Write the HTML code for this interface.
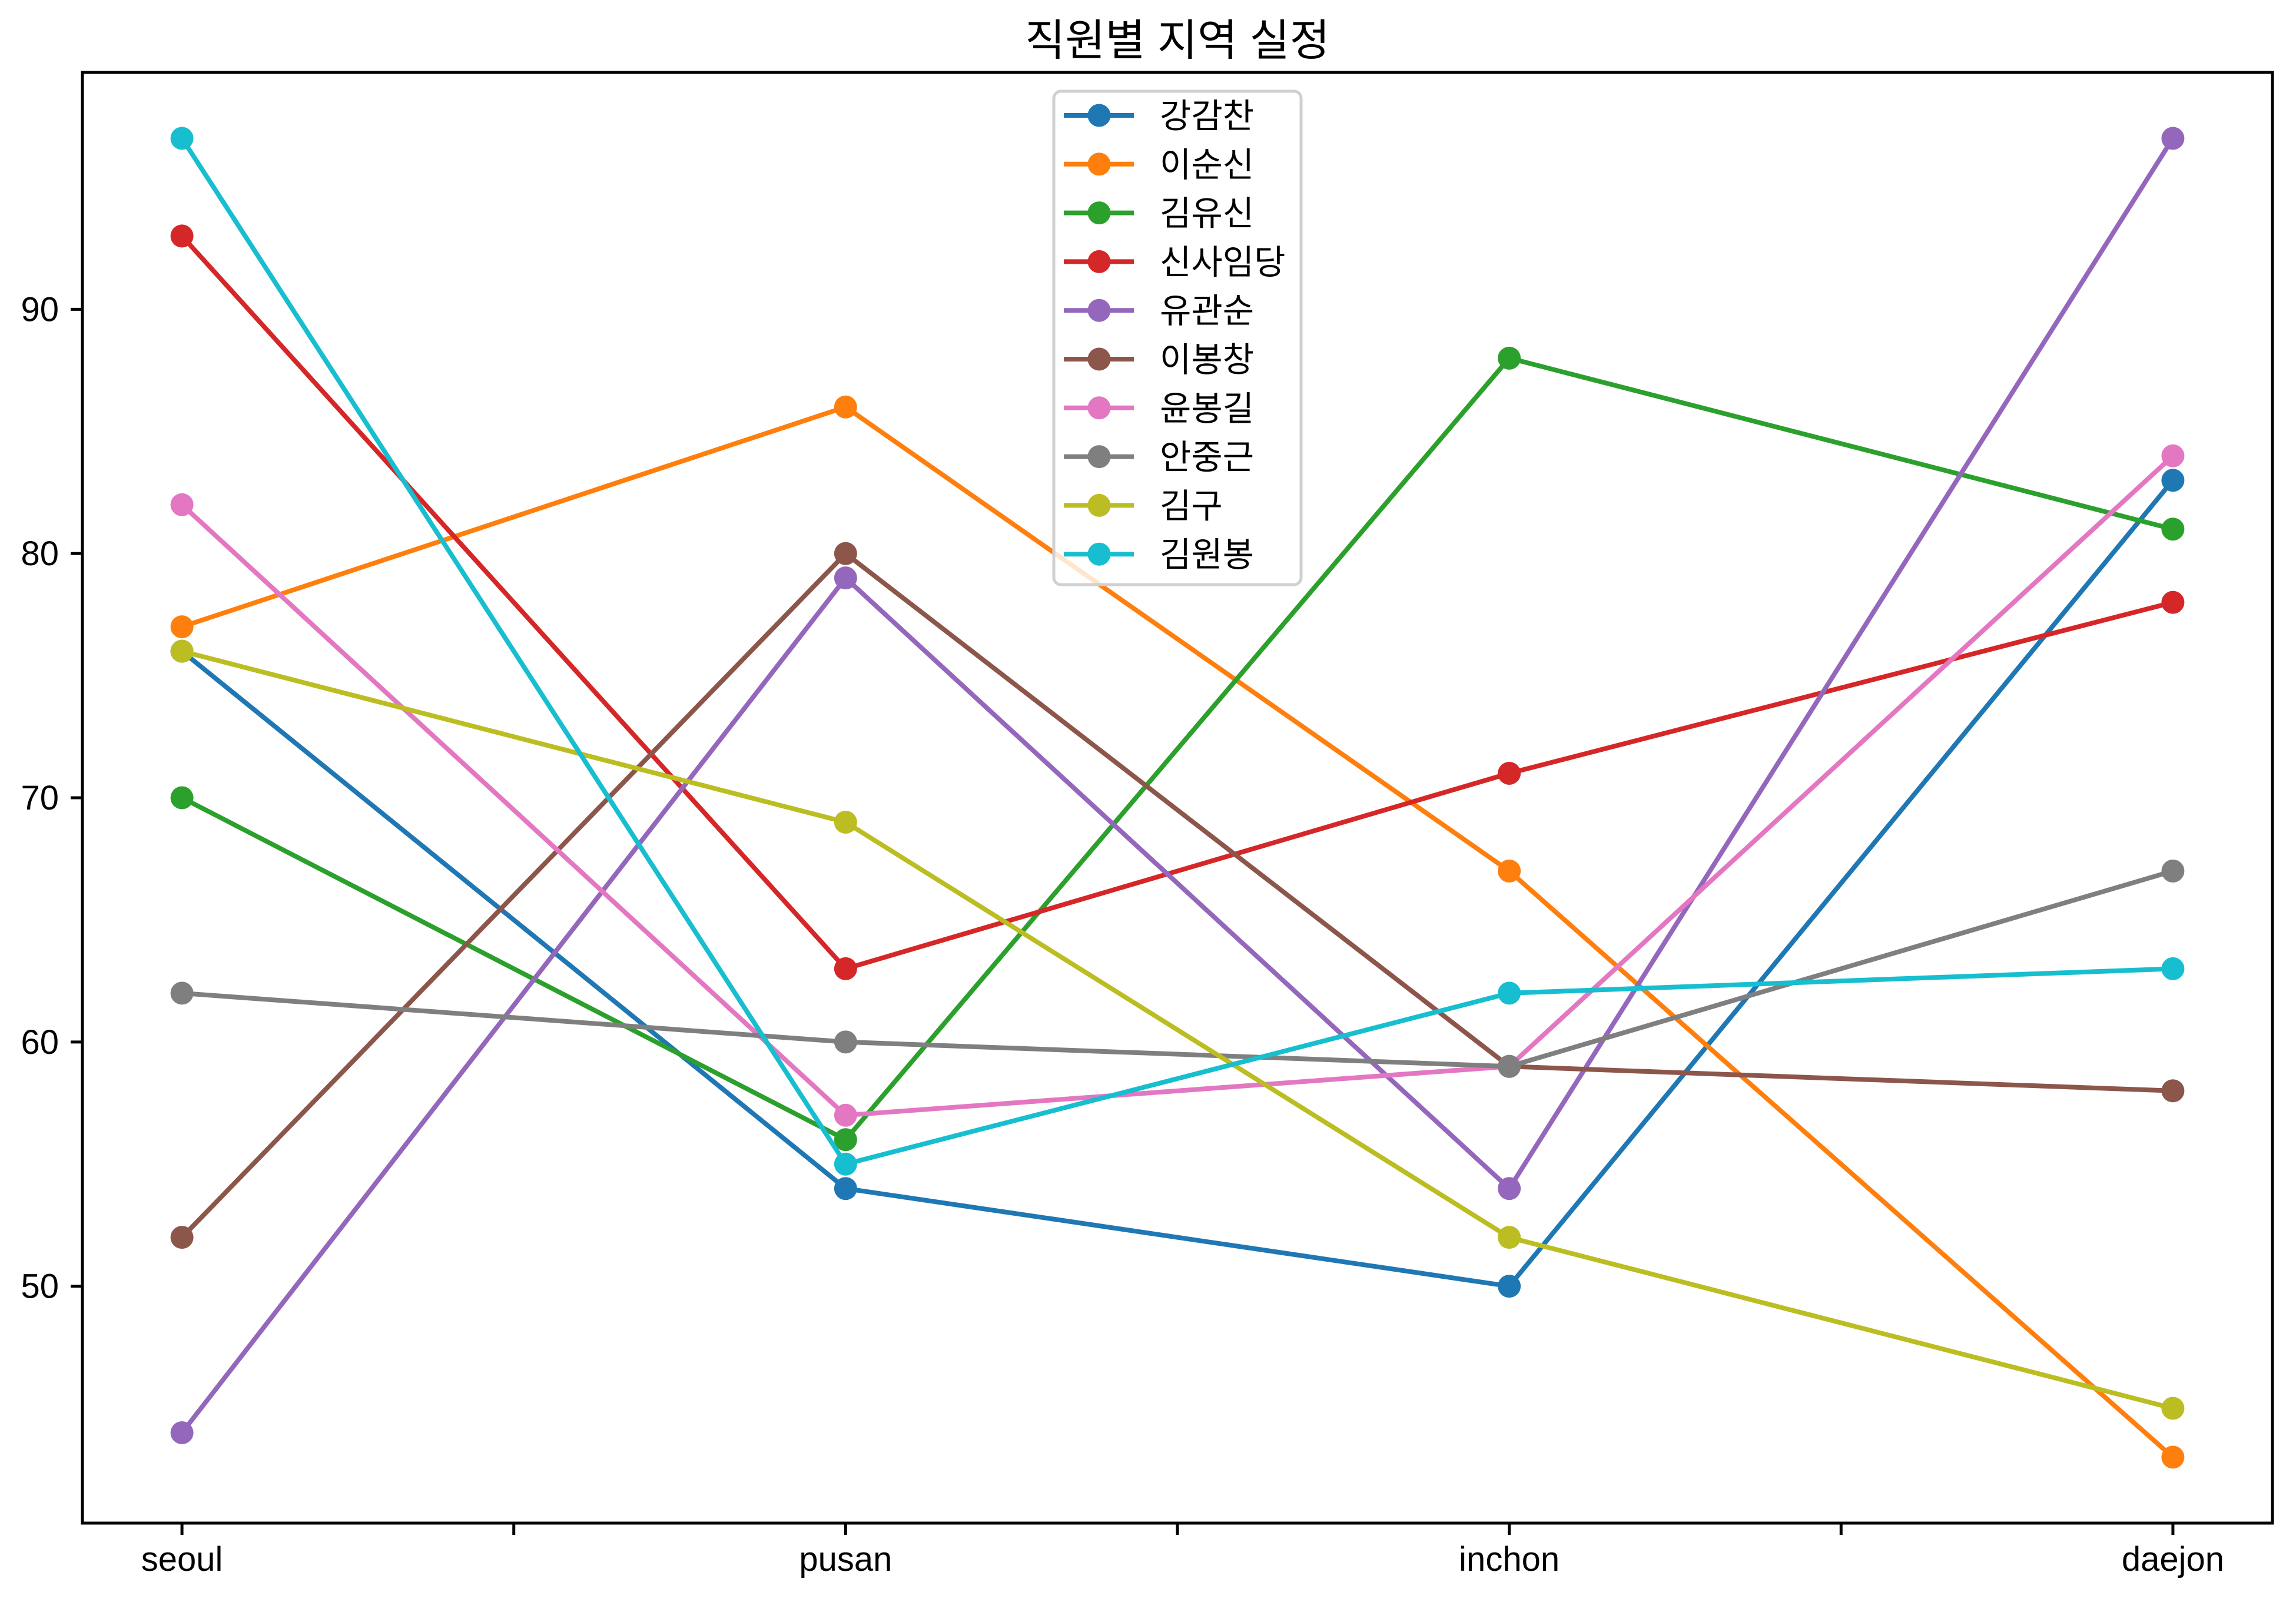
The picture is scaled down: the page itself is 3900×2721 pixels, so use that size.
<!DOCTYPE html>
<html><head><meta charset="utf-8"><title>직원별 지역 실정</title>
<style>
html,body{margin:0;padding:0;background:#fff;}
svg{display:block;}
text{font-family:"Liberation Sans","Noto Sans CJK KR",sans-serif;}
</style></head>
<body>
<svg id="chart" xmlns="http://www.w3.org/2000/svg" width="3900" height="2721" viewBox="0 0 3900 2721">
<rect x="0" y="0" width="3900" height="2721" fill="#fff"/>
</svg>
<script>
const categories = ["seoul","pusan","inchon","daejon"];
const seriesNames = ["강감찬","이순신","김유신","신사임당","유관순","이봉창","윤봉길","안중근","김구","김원봉"];
const s0 = [76,54,50,83];
const s1 = [77,86,67,43];
const s2 = [70,56,88,81];
const s3 = [93,63,71,78];
const s4 = [44,79,54,97];
const s5 = [52,80,59,58];
const s6 = [82,57,59,84];
const s7 = [62,60,59,67];
const s8 = [76,69,52,45];
const s9 = [97,55,62,63];
const seriesValues = [s0,s1,s2,s3,s4,s5,s6,s7,s8,s9];
const yTicks = [50,60,70,80,90];
const xMinorTicks = [0.5,1.5,2.5];
const colors = ["#1f77b4","#ff7f0e","#2ca02c","#d62728","#9467bd","#8c564b","#e377c2","#7f7f7f","#bcbd22","#17becf"];

const NS = "http://www.w3.org/2000/svg";
const svg = document.getElementById("chart");
const L = 140, R = 3860, T = 123, B = 2587;
let all = [].concat(...seriesValues);
const vmin = Math.min(...all), vmax = Math.max(...all);
const ymin = vmin - (vmax - vmin) * 0.05, ymax = vmax + (vmax - vmin) * 0.05;
const xmin = -0.15, xmax = categories.length - 1 + 0.15;
function xs(i){ return L + (i - xmin) / (xmax - xmin) * (R - L); }
function ys(v){ return B - (v - ymin) / (ymax - ymin) * (B - T); }
function mk(tag, attrs, parent){
  const e = document.createElementNS(NS, tag);
  for (const k in attrs) e.setAttribute(k, attrs[k]);
  (parent || svg).appendChild(e);
  return e;
}

const title = mk("text", {x: (L+R)/2, y: 94, "font-size": 74, "text-anchor": "middle", fill: "#000"});
title.textContent = "직원별 지역 실정";



seriesValues.forEach((vals, si) => {
  const g = mk("g", {});
  
  
  const pts = vals.map((v, i) => xs(i).toFixed(1) + "," + ys(v).toFixed(1)).join(" ");
  const pl = mk("polyline", {points: pts, fill: "none", stroke: colors[si], "stroke-width": 8, "stroke-linejoin": "round", "stroke-linecap": "square"}, g);
  
  
  vals.forEach((v, i) => {
    const c = mk("circle", {cx: xs(i), cy: ys(v), r: 19.5, fill: colors[si]}, g);
    
    
  });
});

const frame = mk("rect", {x: L, y: T, width: R-L, height: B-T, fill: "none", stroke: "#000", "stroke-width": 5});



categories.forEach((c, i) => {
  const t = mk("line", {x1: xs(i), x2: xs(i), y1: B, y2: B + 20, stroke: "#000", "stroke-width": 5});
  
  
  const lb = mk("text", {x: xs(i), y: 2668, "font-size": 58, "text-anchor": "middle", fill: "#000"});
  lb.textContent = c;
  
  
});
xMinorTicks.forEach(v => {
  const t = mk("line", {x1: xs(v), x2: xs(v), y1: B, y2: B + 20, stroke: "#000", "stroke-width": 5});
  
  
});
yTicks.forEach(v => {
  const t = mk("line", {x1: L - 20, x2: L, y1: ys(v), y2: ys(v), stroke: "#000", "stroke-width": 5});
  
  
  const lb = mk("text", {x: 100, y: ys(v) + 20, "font-size": 58, "text-anchor": "end", fill: "#000"});
  lb.textContent = v;
  
  
});

const lg = mk("g", {});


const lbox = mk("rect", {x: 1790, y: 155, width: 420, height: 838, rx: 12, fill: "rgba(255,255,255,0.8)", stroke: "#d0d0d0", "stroke-width": 5}, lg);


seriesNames.forEach((n, si) => {
  const y = 196 + si * 82.8;
  const e = mk("g", {}, lg);
  
  
  mk("line", {x1: 1807, x2: 1926, y1: y, y2: y, stroke: colors[si], "stroke-width": 8}, e);
  mk("circle", {cx: 1867, cy: y, r: 19.5, fill: colors[si]}, e);
  const tx = mk("text", {x: 1970, y: y + 21, "font-size": 58, fill: "#000"}, e);
  tx.textContent = n;
  
  
});
</script>
</body></html>
